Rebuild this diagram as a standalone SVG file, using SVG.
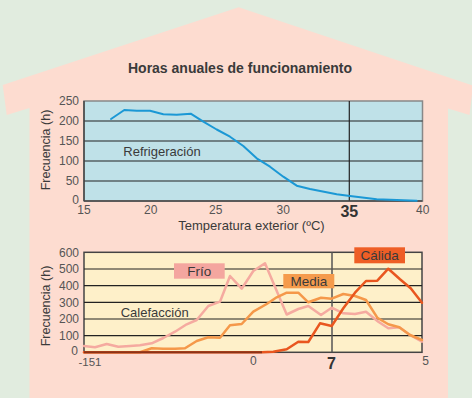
<svg xmlns="http://www.w3.org/2000/svg" width="472" height="398" viewBox="0 0 472 398">
<style>
.t{font-family:"Liberation Sans",Arial,sans-serif;fill:#3a3a3a}
.tick{font-size:12px;fill:#555}
.ty{text-anchor:end}
.tx{text-anchor:middle}
.big{font-size:16px;font-weight:bold;fill:#333;text-anchor:middle}
.grid{stroke:#222;stroke-width:1.2;fill:none}
.lbl{font-size:13.5px;text-anchor:middle}
.c{fill:none;stroke-linejoin:round;stroke-linecap:round}
</style>
<rect width="472" height="398" fill="#e1ecdf"/>
<g id="house">
<polygon points="238.7,7.3 473,85.5 469.5,115 448,108.5 448,398 29.5,398 29.5,108 6.7,115 2.7,85" fill="#fddcd0"/>
</g>
<text id="title" class="t" x="240" y="73" font-size="14" font-weight="bold" text-anchor="middle" fill="#2a2a2a">Horas anuales de funcionamiento</text>

<g id="chart-top">
<rect x="84" y="101" width="338.5" height="100" fill="#bfe1e8" stroke="#888" stroke-width="1.5"/>
<g class="grid">
<line x1="84" y1="121" x2="422.5" y2="121"/>
<line x1="84" y1="141" x2="422.5" y2="141"/>
<line x1="84" y1="161" x2="422.5" y2="161"/>
<line x1="84" y1="181" x2="422.5" y2="181"/>
<line x1="349.3" y1="101" x2="349.3" y2="201"/>
</g>
<line x1="84" y1="201" x2="422.5" y2="201" stroke="#444" stroke-width="1.5"/>
<line x1="84" y1="101" x2="84" y2="201" stroke="#444" stroke-width="1.5"/>
<g class="t tick ty">
<text x="79" y="104.5">250</text>
<text x="79" y="124.5">200</text>
<text x="79" y="144.5">150</text>
<text x="79" y="164.5">100</text>
<text x="79" y="184.5">50</text>
<text x="79" y="203.5">0</text>
</g>
<g class="t tick tx">
<text x="84" y="213.5">15</text>
<text x="150.7" y="213.5">20</text>
<text x="215.7" y="213.5">25</text>
<text x="283.3" y="213.5">30</text>
<text x="422.7" y="213.5">40</text>
</g>
<text class="t big" x="349.3" y="216.5">35</text>
<text class="t" x="251.5" y="230" font-size="13" text-anchor="middle">Temperatura exterior (ºC)</text>
<text class="t" transform="translate(50,150) rotate(-90)" font-size="12.5" text-anchor="middle" fill="#444">Frecuencia (h)</text>
<text class="t" x="123.3" y="155.7" font-size="13">Refrigeración</text>
<polyline class="c" stroke="#1b98d5" stroke-width="2" points="111,119 124.3,110 136.7,110.7 150,110.7 163.3,114.3 176.7,114.7 190.7,113.7 203.3,121.7 216.7,129.5 230,136.7 243.3,146 256.7,158.3 270,166.7 283.3,176.7 296.7,185.7 310,189 336.7,194.3 350,196 376.7,199.3 416.7,200.7"/>
</g>

<g id="chart-bottom">
<rect x="84" y="252.3" width="338" height="100" fill="#fef0c9" stroke="#444" stroke-width="1.5"/>
<g class="grid">
<line x1="84" y1="269" x2="422" y2="269"/>
<line x1="84" y1="285.7" x2="422" y2="285.7"/>
<line x1="84" y1="302.3" x2="422" y2="302.3"/>
<line x1="84" y1="319" x2="422" y2="319"/>
<line x1="84" y1="335.7" x2="422" y2="335.7"/>
</g>
<line x1="332" y1="252.3" x2="332" y2="352.3" stroke="#555" stroke-width="1.5"/>
<g class="t tick ty">
<text x="79" y="256.5">600</text>
<text x="79" y="273">500</text>
<text x="79" y="290">400</text>
<text x="79" y="306.5">300</text>
<text x="79" y="323">200</text>
<text x="79" y="340">100</text>
<text x="78" y="355">0</text>
</g>
<g class="t tick tx">
<text x="90" y="366" font-size="11.5">-151</text>
<text x="253.3" y="365">0</text>
<text x="425.5" y="365">5</text>
</g>
<text class="t big" x="331.5" y="368.5">7</text>
<text class="t" transform="translate(50,306) rotate(-90)" font-size="12.5" text-anchor="middle" fill="#444">Frecuencia (h)</text>
<text class="t" x="120.7" y="316.7" font-size="13">Calefacción</text>
</g>

<g id="connectors">
<polyline id="frio" class="c" stroke="#f5aaa0" stroke-width="2.5" points="84,346 95,347.3 106.7,344 118.3,346.7 130,346 140,345.3 151.7,343.3 163.3,338 175,331.7 186.7,324.3 196.7,320 208.3,306 220,301.7 230,276 241.7,288.7 253.3,271 265,263.3 286.7,314.5 298.3,309 308.3,306 321,315 331.7,307.7 343.3,313.3 355,314 366,311.7 378.3,321.7 388.3,328.3 399.3,327.3 410,335 422,341.7"/>
<polyline id="media" class="c" stroke="#f5984a" stroke-width="2.5" points="84,352.3 140,352.3 151.7,348.3 163.3,348.7 175,348.7 185,348.3 196.7,341 208.3,337.3 220,337.7 230,325.3 241.7,324 253.3,311.7 266.7,304 276.7,297.3 286.7,292.7 298.3,292.7 308.3,302.3 321,297.7 331.7,298.7 343.3,294 355,296 366,300 377.3,317.7 388.3,324.3 399.3,327.3 410,335 422,340"/>
<polyline id="calida" class="c" stroke="#e9561f" stroke-width="2.5" points="84,352.3 262,352.3 273.3,351.8 286.7,349.3 298.3,341.7 308.3,342 320,323.3 331.7,326 343.3,308.3 355,292.7 366,281 377.3,280.7 388.3,268.7 400,279.3 410.7,288.3 422,302.7"/>
<line x1="84" y1="352.3" x2="262" y2="352.3" stroke="#8a3418" stroke-width="2"/>
</g>

<g id="label-frio">
<rect x="174" y="263.3" width="50.7" height="15.4" fill="#f4a69f"/>
<text class="t lbl" x="199.3" y="276.3">Frío</text>
</g>
<g id="label-media">
<rect x="283.3" y="274" width="51" height="14.3" fill="#f59b4c"/>
<text class="t lbl" x="308.8" y="285.8">Media</text>
</g>
<g id="label-calida">
<rect x="354.3" y="247.3" width="50.7" height="16" fill="#ee5e26"/>
<text class="t lbl" x="379.7" y="259.5">Cálida</text>
</g>
</svg>
